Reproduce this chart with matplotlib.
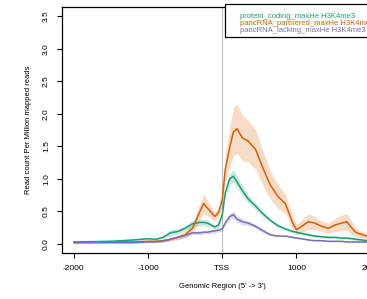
"""
H3K4me3 signal profile around the TSS for three gene classes.
"""
import matplotlib
matplotlib.use("Agg")
import matplotlib.pyplot as plt
from matplotlib.patches import Rectangle
import numpy as np

plt.rcParams["font.family"] = ["Liberation Sans", "DejaVu Sans"]

positions = [-2000, -1500, -1200, -1000, -900, -800, -700, -600, -500, -400,
             -300, -250, -200, -100, -50, 0, 40, 100, 150, 200,
             270, 350, 450, 550, 650, 750, 850, 950, 1000, 1070,
             1160, 1250, 1340, 1430, 1520, 1610, 1680, 1750, 1810, 1950, 2000]

coding_mean = [0.03, 0.04, 0.06, 0.08, 0.07, 0.10, 0.17, 0.19, 0.24, 0.31,
               0.33, 0.33, 0.32, 0.26, 0.29, 0.45, 0.78, 1.00, 1.04, 0.95,
               0.82, 0.69, 0.58, 0.46, 0.36, 0.28, 0.23, 0.19, 0.18, 0.16,
               0.14, 0.12, 0.11, 0.10, 0.10, 0.09, 0.09, 0.08, 0.07, 0.05, 0.05]
coding_err = [0.01, 0.01, 0.01, 0.01, 0.01, 0.02, 0.05, 0.04, 0.04, 0.05,
              0.05, 0.05, 0.05, 0.03, 0.04, 0.05, 0.07, 0.09, 0.10, 0.09,
              0.08, 0.06, 0.05, 0.04, 0.03, 0.02, 0.02, 0.02, 0.02, 0.02,
              0.02, 0.02, 0.02, 0.02, 0.02, 0.02, 0.02, 0.02, 0.02, 0.02, 0.02]

partnered_mean = [0.02, 0.03, 0.03, 0.04, 0.04, 0.05, 0.07, 0.10, 0.14, 0.24,
                  0.50, 0.62, 0.55, 0.42, 0.48, 0.68, 1.14, 1.48, 1.72, 1.77,
                  1.63, 1.58, 1.45, 1.16, 0.90, 0.73, 0.62, 0.32, 0.22, 0.27,
                  0.34, 0.32, 0.27, 0.24, 0.29, 0.32, 0.34, 0.24, 0.17, 0.12, 0.11]
partnered_err = [0.02, 0.02, 0.02, 0.02, 0.02, 0.02, 0.03, 0.04, 0.05, 0.07,
                 0.12, 0.15, 0.12, 0.07, 0.07, 0.10, 0.20, 0.30, 0.38, 0.38,
                 0.35, 0.32, 0.30, 0.27, 0.22, 0.18, 0.15, 0.10, 0.08, 0.10,
                 0.12, 0.10, 0.08, 0.08, 0.10, 0.12, 0.13, 0.10, 0.06, 0.04, 0.04]

lacking_mean = [0.02, 0.02, 0.02, 0.03, 0.03, 0.04, 0.07, 0.10, 0.13, 0.17,
                0.17, 0.18, 0.18, 0.20, 0.21, 0.23, 0.32, 0.42, 0.45, 0.38,
                0.34, 0.32, 0.27, 0.20, 0.14, 0.12, 0.12, 0.10, 0.09, 0.08,
                0.06, 0.05, 0.05, 0.04, 0.04, 0.04, 0.03, 0.03, 0.03, 0.03, 0.03]
lacking_err = [0.01, 0.01, 0.01, 0.01, 0.01, 0.01, 0.02, 0.02, 0.03, 0.03,
               0.03, 0.03, 0.03, 0.03, 0.03, 0.03, 0.04, 0.05, 0.06, 0.05,
               0.05, 0.04, 0.03, 0.03, 0.02, 0.01, 0.01, 0.01, 0.01, 0.01,
               0.01, 0.01, 0.01, 0.01, 0.01, 0.01, 0.01, 0.01, 0.01, 0.01, 0.01]

series_labels = ["protein_coding_maxHe H3K4me3",
                 "pancRNA_partnered_maxHe H3K4me3",
                 "pancRNA_lacking_maxHe H3K4me3"]
series_colors = ["#1b9e77", "#d95f02", "#7570b3"]

x_ticks = [-2000, -1000, 0, 1000, 2000]
x_tick_labels = ["-2000", "-1000", "TSS", "1000", "2000"]
y_ticks = [0.0, 0.5, 1.0, 1.5, 2.0, 2.5, 3.0, 3.5]

W, H = 367, 299
fig = plt.figure(figsize=(W / 100, H / 100), dpi=100)
# axes run past the right edge of the figure, as in the reference crop
ax = fig.add_axes([62 / W, 1 - 253 / H, (382.5 - 62) / W, (253 - 7) / H])

x = np.array(positions)
ax.axvline(0, color="#bdbdbd", lw=0.8, zorder=1)
for mean, err, col in [(coding_mean, coding_err, series_colors[0]),
                       (partnered_mean, partnered_err, series_colors[1]),
                       (lacking_mean, lacking_err, series_colors[2])]:
    m = np.array(mean)
    e = np.array(err)
    ax.fill_between(x, m - e, m + e, color=col, alpha=0.22, lw=0, zorder=2)
    ax.plot(x, m, color=col, lw=1.1, zorder=3)

ax.set_xlim(-2160, 2160)
ax.set_ylim(-0.14, 3.64)
ax.set_xticks(x_ticks)
ax.set_xticklabels(x_tick_labels)
ax.set_yticks(y_ticks)
ax.set_yticklabels([f"{v:.1f}" for v in y_ticks], rotation=90, va="center")
ax.tick_params(labelsize=6, length=3.6, width=0.8, pad=5)
for s in ax.spines.values():
    s.set_linewidth(0.9)

fig.text(29 / W, 1 - 130 / H, "Read count Per Million mapped reads",
         rotation=90, ha="center", va="center", fontsize=5.5)
fig.text(222 / W, 1 - 287 / H, "Genomic Region (5' -> 3')",
         ha="center", va="center", fontsize=5.5)

# legend box (clipped at the right edge, like the reference)
fig.patches.append(Rectangle((225 / W, 1 - 37 / H), 200 / W, 33 / H,
                             transform=fig.transFigure, facecolor="white",
                             edgecolor="black", lw=0.9, zorder=5))
fig.patches.append(Rectangle((225 / W, 1 - 37 / H), 1.5 / W, 33 / H,
                             transform=fig.transFigure, facecolor="black",
                             edgecolor="none", zorder=6))
for i, (lab, col) in enumerate(zip(series_labels, series_colors)):
    fig.text(240 / W, 1 - (17 + 6.6 * i) / H, lab, color=col,
             fontsize=5.5, ha="left", va="center", zorder=7)

fig.savefig("out.png", dpi=100)
